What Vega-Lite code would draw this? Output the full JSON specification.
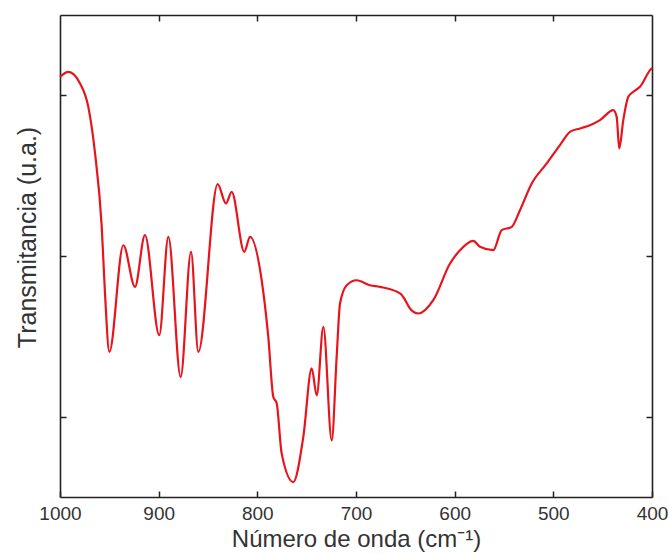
{
  "$schema": "https://vega.github.io/schema/vega-lite/v6.json",
  "autosize": {"type": "none"},
  "width": 592,
  "height": 482,
  "padding": {"left": 60, "top": 15, "right": 16, "bottom": 57},
  "background": "white",
  "config": {
    "view": {"stroke": null},
    "axis": {"grid": false, "labelFont": "Liberation Sans", "titleFont": "Liberation Sans", "labelColor": "#333", "titleColor": "#333", "domainColor": "#222", "domainWidth": 1.6, "tickColor": "#222", "tickWidth": 1.5, "tickSize": -6, "titleFontWeight": "normal"}
  },
  "data": {"values": [
    {"wn": 1000, "t": 26.15},
    {"wn": 991.6, "t": 26.46},
    {"wn": 979.7, "t": 25.74},
    {"wn": 971.3, "t": 24.28},
    {"wn": 964.5, "t": 21.4},
    {"wn": 957.7, "t": 16.81},
    {"wn": 954.4, "t": 12.68},
    {"wn": 950.0, "t": 9.03},
    {"wn": 935.8, "t": 15.67},
    {"wn": 924.0, "t": 13.08},
    {"wn": 913.9, "t": 16.3},
    {"wn": 899.4, "t": 10.07},
    {"wn": 890.2, "t": 16.19},
    {"wn": 877.7, "t": 7.47},
    {"wn": 867.2, "t": 15.26},
    {"wn": 859.8, "t": 9.03},
    {"wn": 840.2, "t": 19.47},
    {"wn": 831.8, "t": 18.27},
    {"wn": 826.0, "t": 18.99},
    {"wn": 813.2, "t": 15.26},
    {"wn": 807.4, "t": 16.19},
    {"wn": 795.6, "t": 13.49},
    {"wn": 788.9, "t": 9.96},
    {"wn": 783.8, "t": 6.23},
    {"wn": 780.4, "t": 5.83},
    {"wn": 775.3, "t": 2.7},
    {"wn": 763.6, "t": 0.93},
    {"wn": 753.4, "t": 3.74},
    {"wn": 744.9, "t": 8.0},
    {"wn": 739.8, "t": 6.33},
    {"wn": 733.1, "t": 10.59},
    {"wn": 724.6, "t": 3.53},
    {"wn": 719.6, "t": 8.72},
    {"wn": 716.2, "t": 12.04},
    {"wn": 709.4, "t": 13.18},
    {"wn": 699.3, "t": 13.49},
    {"wn": 685.8, "t": 13.18},
    {"wn": 675.7, "t": 13.08},
    {"wn": 655.4, "t": 12.67},
    {"wn": 652.1, "t": 12.45},
    {"wn": 645.3, "t": 11.73},
    {"wn": 636.9, "t": 11.42},
    {"wn": 621.7, "t": 12.25},
    {"wn": 604.7, "t": 14.53},
    {"wn": 594.6, "t": 15.36},
    {"wn": 581.1, "t": 15.94},
    {"wn": 574.3, "t": 15.57},
    {"wn": 560.9, "t": 15.36},
    {"wn": 552.3, "t": 16.61},
    {"wn": 542.2, "t": 16.81},
    {"wn": 533.8, "t": 17.85},
    {"wn": 521.9, "t": 19.51},
    {"wn": 506.7, "t": 20.76},
    {"wn": 493.3, "t": 21.9},
    {"wn": 483.1, "t": 22.73},
    {"wn": 473.0, "t": 22.94},
    {"wn": 462.9, "t": 23.14},
    {"wn": 452.7, "t": 23.46},
    {"wn": 439.2, "t": 24.08},
    {"wn": 435.8, "t": 23.66},
    {"wn": 433.2, "t": 21.69},
    {"wn": 429.1, "t": 23.46},
    {"wn": 424.0, "t": 24.91},
    {"wn": 418.9, "t": 25.22},
    {"wn": 412.2, "t": 25.53},
    {"wn": 402.0, "t": 26.57},
    {"wn": 400.0, "t": 26.7}
  ]},
  "layer": [
    {
      "mark": {"type": "line", "color": "#e8141c", "strokeWidth": 2.2, "interpolate": "monotone"},
      "encoding": {
        "x": {"field": "wn", "type": "quantitative", "scale": {"domain": [400, 1000], "reverse": true, "nice": false, "zero": false},
          "axis": {"orient": "bottom", "values": [1000, 900, 800, 700, 600, 500, 400], "format": "d", "title": "Número de onda (cm⁻¹)", "labelFontSize": 19, "titleFontSize": 24, "labelPadding": 13, "titlePadding": 4, "labelFlush": false}},
        "y": {"field": "t", "type": "quantitative", "scale": {"domain": [0, 30], "nice": false, "zero": false},
          "axis": {"orient": "left", "values": [5, 15, 25], "labels": false, "title": "Transmitancia (u.a.)", "titleFontSize": 25, "titlePadding": 19, "titleY": 222}}
      }
    },
    {
      "mark": {"type": "line", "strokeOpacity": 0},
      "encoding": {
        "x": {"field": "wn", "type": "quantitative", "axis": {"orient": "top", "values": [900, 800, 700, 600, 500], "labels": false, "title": null}},
        "y": {"field": "t", "type": "quantitative", "axis": {"orient": "right", "values": [5, 15, 25], "labels": false, "title": null}}
      }
    }
  ],
  "resolve": {"axis": {"x": "independent", "y": "independent"}}
}
